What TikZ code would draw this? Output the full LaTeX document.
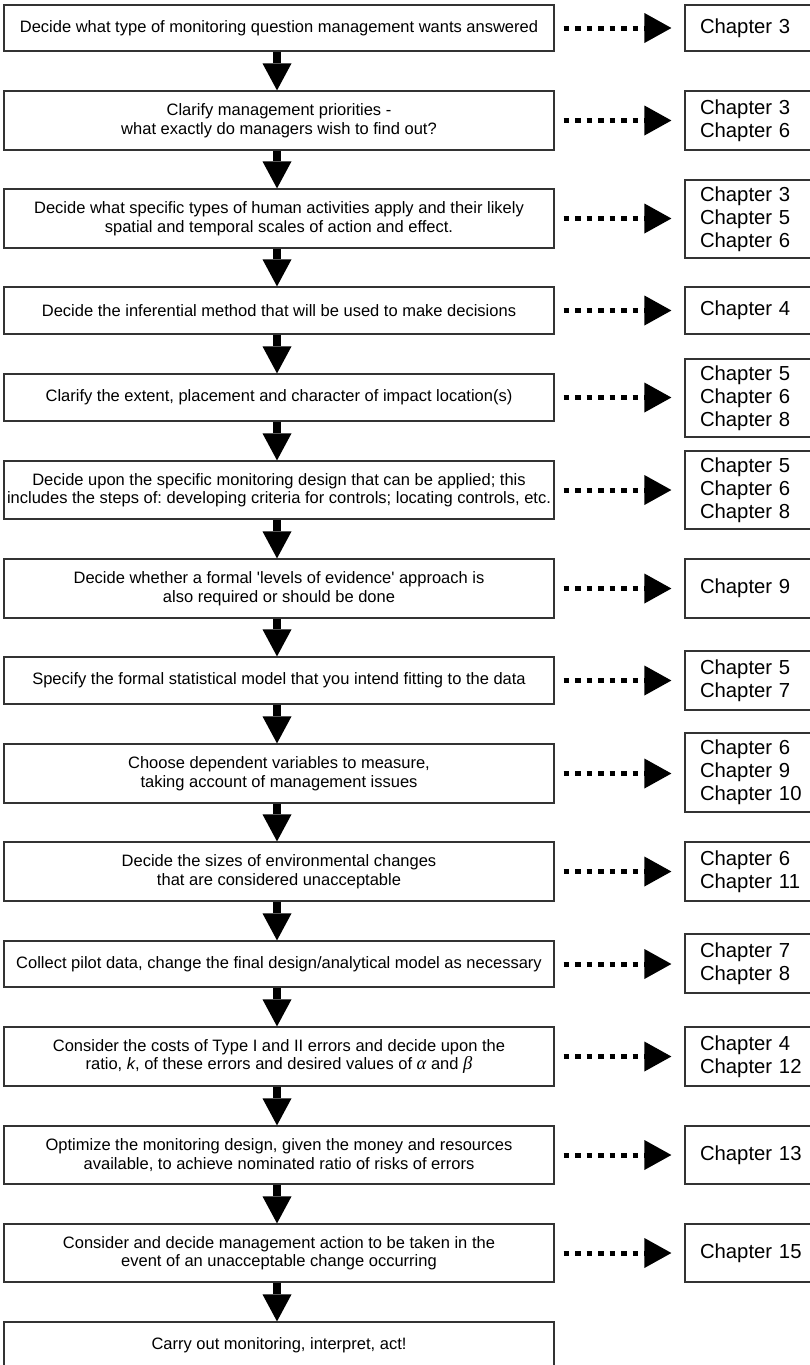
\documentclass[tikz,border=0pt]{standalone}
\usepackage{fontspec}
\setmainfont{Liberation Sans}
\newfontfamily\greekserif{Liberation Serif}
\usetikzlibrary{arrows.meta}
\frenchspacing
\newcommand{\grk}[1]{{\greekserif\itshape\fontsize{18.5}{18.5}\selectfont #1}}
\tikzset{
  lbox/.style={draw=black!80, line width=1.2pt, minimum width=550pt, inner sep=0pt, align=center,
    font=\fontsize{16.5}{18.5}\selectfont},
  cbox/.style={draw=black!80, line width=1.2pt, minimum width=140pt, inner xsep=15pt, inner ysep=0pt,
    text width=110pt, align=left, font=\fontsize{20.3}{23.2}\selectfont},
  varrow/.style={line width=8pt, -{Triangle[length=27pt,width=29pt,line width=0pt]}},
  darrow/.style={line width=5pt, dash pattern=on 5.5pt off 6pt,
    -{Triangle[length=27pt,width=30pt,line width=0pt]}, shorten <=9pt, shorten >=13pt}
}
\begin{document}
\begin{tikzpicture}[x=1pt,y=-1pt]
\useasboundingbox[fill=white] (0,0) rectangle (809,1365);
% left boxes
\node[lbox, minimum height=46pt] (b1) at (279,28) {Decide what type of monitoring question management wants answered};
\node[lbox, minimum height=59pt] (b2) at (279,120.5) {Clarify management priorities -\\what exactly do managers wish to find out?};
\node[lbox, minimum height=59pt] (b3) at (279,218.5) {Decide what specific types of human activities apply and their likely\\spatial and temporal scales of action and effect.};
\node[lbox, minimum height=47pt] (b4) at (279,310.5) {Decide the inferential method that will be used to make decisions};
\node[lbox, minimum height=47pt] (b5) at (279,397.5) {Clarify the extent, placement and character of impact location(s)};
\node[lbox, minimum height=58pt] (b6) at (279,490) {Decide upon the specific monitoring design that can be applied; this\\includes the steps of: developing criteria for controls; locating controls, etc.};
\node[lbox, minimum height=59pt] (b7) at (279,588.5) {Decide whether a formal \textquotesingle levels of evidence\textquotesingle{} approach is\\also required or should be done};
\node[lbox, minimum height=47pt] (b8) at (279,680.5) {Specify the formal statistical model that you intend fitting to the data};
\node[lbox, minimum height=59pt] (b9) at (279,773.5) {Choose dependent variables to measure,\\taking account of management issues};
\node[lbox, minimum height=59pt] (b10) at (279,871.5) {Decide the sizes of environmental changes\\that are considered unacceptable};
\node[lbox, minimum height=46pt] (b11) at (279,964) {Collect pilot data, change the final design/analytical model as necessary};
\node[lbox, minimum height=59pt] (b12) at (279,1056.5) {Consider the costs of Type I and II errors and decide upon the\\ ratio, \textit{k}, of these errors and desired values of \grk{α} and \grk{β}};
\node[lbox, minimum height=58pt] (b13) at (279,1155) {Optimize the monitoring design, given the money and resources\\available, to achieve nominated ratio of risks of errors};
\node[lbox, minimum height=58pt] (b14) at (279,1253) {Consider and decide management action to be taken in the\\event of an unacceptable change occurring};
\node[lbox, minimum height=46pt] (b15) at (279,1345) {Carry out monitoring, interpret, act!};
% chapter boxes
\node[cbox, minimum height=46pt] (c1) at (755,28) {Chapter 3};
\node[cbox, minimum height=59pt] (c2) at (755,120.5) {Chapter 3\\Chapter 6};
\node[cbox, minimum height=78pt] (c3) at (755,219) {Chapter 3\\Chapter 5\\Chapter 6};
\node[cbox, minimum height=47pt] (c4) at (755,310.5) {Chapter 4};
\node[cbox, minimum height=78pt] (c5) at (755,398) {Chapter 5\\Chapter 6\\Chapter 8};
\node[cbox, minimum height=78pt] (c6) at (755,490) {Chapter 5\\Chapter 6\\Chapter 8};
\node[cbox, minimum height=59pt] (c7) at (755,588.5) {Chapter 9};
\node[cbox, minimum height=59pt] (c8) at (755,680.5) {Chapter 5\\Chapter 7};
\node[cbox, minimum height=79pt] (c9) at (755,772.5) {Chapter 6\\Chapter 9\\Chapter 10};
\node[cbox, minimum height=59pt] (c10) at (755,871.5) {Chapter 6\\Chapter 11};
\node[cbox, minimum height=59pt] (c11) at (755,963.5) {Chapter 7\\Chapter 8};
\node[cbox, minimum height=59pt] (c12) at (755,1056.5) {Chapter 4\\Chapter 12};
\node[cbox, minimum height=58pt] (c13) at (755,1155) {Chapter 13};
\node[cbox, minimum height=58pt] (c14) at (755,1253) {Chapter 15};
% vertical arrows
\foreach \a/\b in {b1/b2,b2/b3,b3/b4,b4/b5,b5/b6,b6/b7,b7/b8,b8/b9,b9/b10,b10/b11,b11/b12,b12/b13,b13/b14,b14/b15}
  \draw[varrow] ([xshift=-2pt]\a.south) -- ([xshift=-2pt]\b.north);
% dotted arrows
\foreach \i in {1,...,14}
  \draw[darrow] (b\i.east) -- (b\i.east -| c\i.west);
\end{tikzpicture}
\end{document}
